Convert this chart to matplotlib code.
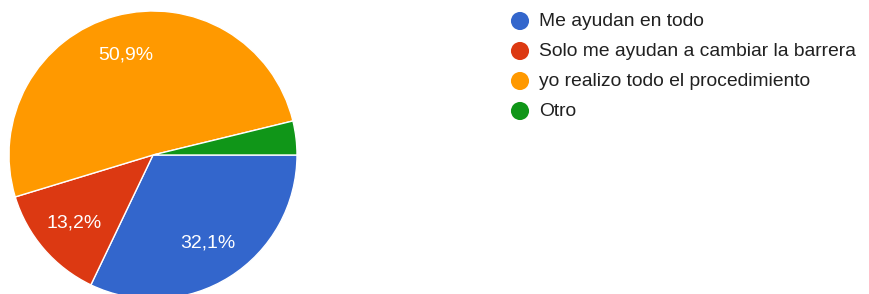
import matplotlib

matplotlib.use("Agg")
import matplotlib.pyplot as plt

labels = [
    "Me ayudan en todo",
    "Solo me ayudan a cambiar la barrera",
    "yo realizo todo el procedimiento",
    "Otro",
]
values = [32.1, 13.2, 50.9, 3.8]
colors = ["#3366cc", "#dc3912", "#ff9900", "#109618"]

W, H = 869, 294
plt.rcParams["font.family"] = ["Liberation Sans", "DejaVu Sans"]
fig = plt.figure(figsize=(W / 100, H / 100), dpi=100)

# pie: centre (153, 155) px, radius 144 px
cx, cy, r = 153, 155, 144
ax = fig.add_axes([(cx - r) / W, (H - cy - r) / H, 2 * r / W, 2 * r / H])


def fmt(p):
    return (f"{p:.1f}".replace(".", ",") + "%") if p > 5 else ""


wedges, _, autotexts = ax.pie(
    values, colors=colors, startangle=0, counterclock=False,
    autopct=fmt, pctdistance=0.72, radius=1,
    wedgeprops=dict(edgecolor="white", linewidth=1),
    textprops=dict(color="white", fontsize=14),
)
ax.set_xlim(-1, 1)
ax.set_ylim(-1, 1)
ax.set_aspect("equal")
ax.axis("off")

# legend drawn in pixel coords
lg = fig.add_axes([0, 0, 1, 1])
lg.set_xlim(0, W)
lg.set_ylim(H, 0)
lg.axis("off")
for i, (lab, col) in enumerate(zip(labels, colors)):
    y = 21 + i * 30
    lg.scatter([520], [y], s=170, color=col, edgecolors="none")
    lg.text(539, y, lab, fontsize=13.9, color="#212121", va="center", ha="left")

plt.savefig("out.png", dpi=100)
